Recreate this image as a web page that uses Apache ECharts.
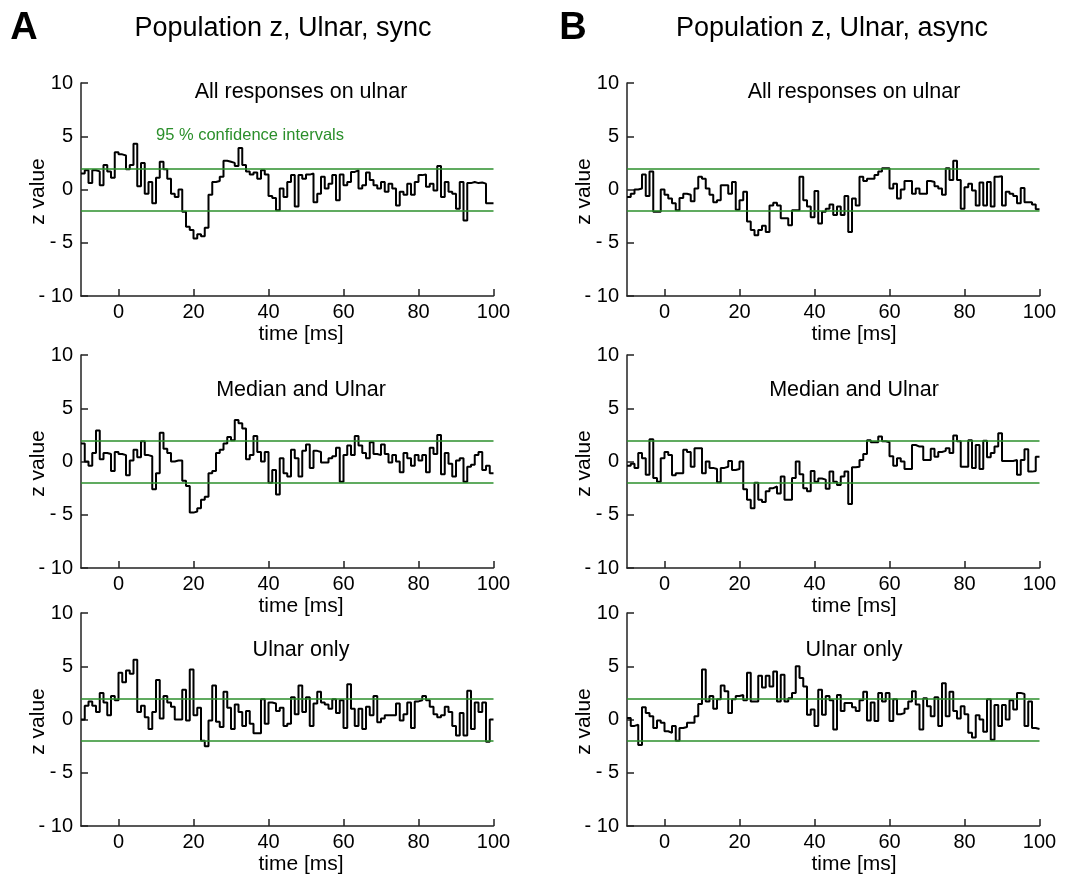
<!DOCTYPE html>
<html>
<head>
<meta charset="utf-8">
<title>Population z, Ulnar</title>
<script src="https://cdn.jsdelivr.net/npm/echarts@6/dist/echarts.min.js"></script>
<style>
  html, body { margin: 0; padding: 0; background: #fff; }
  #chart { width: 1065px; height: 876px; }
</style>
</head>
<body>
<div id="chart"></div>
<script>
// 1 ms bins, first bin starts at -10 ms, last one ends at 100 ms
const binStart = -10
const binEnd = 100

// sync, column A
const syncAll = [
  1.5, 1.8, 0.6, 1.8, 1.7, 0.4, 2.3, 1.7, 1.1, 3.5,
  3.3, 3.2, 1.9, 2.3, 4.3, 0.3, 2.5, -0.4, 0.7, -1.3,
  1.1, 2.6, 1.9, 1.0, -0.4, -0.7, 0.0, -2.1, -3.5, -3.8,
  -4.6, -4.2, -4.4, -3.6, -0.5, 0.7, 0.8, 1.2, 2.7, 2.6,
  2.5, 2.2, 3.9, 2.3, 1.7, 1.4, 1.6, 1.0, 1.8, 1.4,
  -0.6, -0.8, -1.95, 0.1, -0.7, 0.7, 1.35, -1.6, 1.35, 1.0,
  1.4, 1.5, -1.2, -0.4, 1.2, 0.1, 0.55, 1.35, -1.0, 1.4,
  0.4, 0.7, 1.65, 1.8, 0.1, 0.4, 1.6, 0.9, 0.4, 0.1,
  0.7, -0.2, 0.55, 0.1, -1.5, -0.2, -0.5, 0.55, -0.5, 0.7,
  1.35, 1.4, 0.25, 0.55, -0.1, 2.2, -0.7, 0.7, -0.2, -0.4,
  -1.8, 0.7, -2.9, 0.6, 0.7, 0.6, 0.65, 0.55, -1.3, -1.3
]
const syncMedian = [
  1.7, 0.0, -0.4, 0.8, 2.9, 0.2, 0.8, 0.7, -0.9, 0.9,
  0.7, 0.6, -1.3, 0.1, 1.1, 0.4, 1.9, 0.6, 0.5, -2.6,
  -1.1, 2.7, 1.2, 0.8, 0.0, 0.1, 0.1, -1.8, -2.3, -4.8,
  -4.7, -4.4, -3.6, -3.3, -1.1, -0.9, 0.8, 1.1, 1.7, 2.3,
  2.0, 3.9, 3.6, 3.1, 0.2, 0.6, 2.4, 0.9, 0.0, 0.9,
  -2.0, -0.8, -3.1, 0.3, -1.1, -1.4, 1.1, 0.3, -1.4, 1.0,
  1.6, -0.6, 1.0, 0.9, -0.1, -0.1, 0.3, 0.5, 1.3, -1.9,
  0.6, 1.5, 0.6, 2.4, 1.5, 0.8, 0.3, 1.8, 0.7, 0.6,
  1.6, 0.7, -0.1, 0.6, 0.0, -1.0, 0.8, 0.3, -0.4, 0.6,
  0.1, 0.6, -1.0, 1.3, 0.7, 2.5, -1.2, 0.8, -0.2, -1.4,
  0.1, 0.3, -1.9, -0.5, -0.3, 0.6, 0.9, -0.8, -0.4, -1.1
]
const syncUlnar = [
  0.0, 1.3, 1.7, 1.3, 0.7, 2.5, 1.6, 0.4, 2.2, 1.8,
  4.4, 3.5, 4.6, 4.3, 5.6, 0.7, 1.3, 0.2, -0.9, 0.7,
  3.7, 0.1, 2.2, 1.6, 1.2, 0.0, 0.0, 2.8, -0.1, 4.7,
  0.4, 1.1, -2.0, -2.5, -0.1, 3.2, -0.2, -0.7, 2.6, 1.1,
  -0.9, 1.4, 0.7, -0.6, 0.8, -0.4, -1.3, -1.3, 1.9, -0.4,
  1.6, 1.5, 0.8, 1.1, -0.6, -0.4, 2.1, 0.5, 3.2, 0.7,
  2.1, -0.6, 1.5, 2.6, 1.6, 1.4, 1.0, 1.9, 0.6, 1.8,
  -0.8, 3.3, 1.0, -0.6, 1.0, -0.9, 1.2, 0.4, 2.2, -0.25,
  0.1, 0.4, 0.4, 0.4, 1.5, -0.1, 0.5, 1.6, -0.8, 1.7,
  1.8, 2.2, 1.8, 1.2, 0.5, 0.2, 0.4, 1.2, 0.7, -0.6,
  -1.5, 0.6, -1.5, 2.7, -0.9, 1.6, 0.7, 1.6, -2.1, 0.0
]

// async, column B
const asyncAll = [
  -0.7, -0.4, 0.0, 0.1, 1.4, -0.6, 1.7, -2.1, -2.1, 0.0,
  -0.5, -0.85, -1.3, -1.95, -0.8, -0.4, -0.5, -1.1, 0.1, 1.2,
  1.0, 0.1, -0.5, -1.2, -1.0, 0.4, 0.4, -0.4, 0.7, -1.9,
  -1.0, -0.2, -3.0, -3.8, -4.3, -3.8, -3.4, -4.0, -1.5, -1.25,
  -1.5, -2.7, -2.7, -3.35, -1.95, -1.95, 1.2, -1.0, -1.6, -2.6,
  -0.15, -3.2, -2.1, -1.8, -1.4, -2.4, -1.6, -2.4, -0.6, -4.0,
  -0.85, -1.5, 1.2, 0.8, 1.0, 1.0, 1.35, 1.7, 2.0, 2.0,
  0.1, 0.55, -0.85, 0.0, 0.8, 0.8, -0.4, 0.1, -0.4, -0.4,
  0.8, 0.7, 0.3, 0.1, -0.5, 2.0, 0.9, 2.7, 0.9, -1.8,
  0.2, 0.55, -0.1, -1.5, 0.65, -1.5, 0.7, -1.6, 1.2, 1.25,
  -1.5, -0.2, -0.4, -0.6, -1.3, 0.15, -1.2, -1.2, -1.4, -1.85
]
const asyncMedian = [
  -0.4, -0.2, -0.6, 0.8, 0.3, -1.25, 2.1, -1.55, -1.9, 0.3,
  0.9, 0.6, -1.3, -1.1, -1.1, 1.1, 0.9, -0.5, 1.25, 1.25,
  -1.1, 0.0, -0.6, -0.7, -1.95, -0.6, -0.5, 0.05, -0.8, -0.7,
  0.0, -2.6, -3.6, -4.4, -2.0, -3.6, -3.8, -2.8, -2.5, -2.35,
  -3.0, -1.4, -3.6, -3.6, -1.55, 0.0, -1.2, -2.5, -2.8, -0.9,
  -1.9, -1.6, -1.7, -2.55, -0.95, -1.9, -2.2, -1.4, -0.95, -4.0,
  -0.55, -0.5, 0.15, 0.7, 2.0, 1.8, 1.8, 2.35, 1.9, 1.8,
  0.5, -0.4, 0.3, 0.0, -0.7, -0.7, 1.55, 1.4, 1.4, 0.15,
  0.15, 1.2, 0.45, 0.9, 1.0, 1.25, 0.8, 2.45, 1.9, -0.5,
  -0.5, 2.0, -0.6, 1.55, -0.7, 1.95, 0.4, 0.8, 1.4, 2.65,
  0.05, 0.05, 0.05, 0.15, -1.25, 0.15, 1.15, -0.95, -0.9, 0.45
]
const asyncUlnar = [
  0.15, -0.6, -0.5, -2.4, 1.15, 0.6, 0.3, -0.8, -0.1, -0.3,
  -1.1, -1.25, -0.6, -2.0, -0.8, -0.7, -0.3, -0.3, 0.3, 1.45,
  4.7, 1.7, 2.2, 1.0, 1.9, 3.2, 2.65, 0.6, 1.9, 2.2,
  2.3, 1.8, 4.4, 1.7, 1.7, 4.1, 3.0, 4.1, 3.1, 4.5,
  1.7, 4.2, 1.7, 2.0, 2.5, 5.0, 3.9, 3.1, 0.45, 0.95,
  -0.6, 2.8, 0.45, 2.2, 1.8, -0.95, 2.3, 0.8, 1.55, 1.55,
  1.15, 0.8, 1.8, 2.6, -0.1, 1.6, -0.15, 2.5, 1.7, 2.5,
  -0.15, 1.9, 0.5, 0.6, 1.0, 1.7, 2.65, 1.4, -0.95, 2.0,
  1.25, 0.3, 2.1, -0.6, 3.4, 0.3, 2.6, 0.8, 0.1, 1.25,
  0.5, -1.25, -1.7, 0.4, 0.0, -1.15, 1.9, -1.9, 1.35, -0.6,
  1.35, 0.0, 1.8, 0.95, 2.5, 2.4, -0.6, 1.7, -0.8, -0.9
]

const xTicks = [0, 20, 40, 60, 80, 100]
const yTicks = [-10, -5, 0, 5, 10]
const confLevels = [1.96, -1.96]

const columnLetters = ['A', 'B']
const columnTitles = ['Population z, Ulnar, sync', 'Population z, Ulnar, async']
const panelTitles = ['All responses on ulnar', 'Median and Ulnar', 'Ulnar only']
const xName = 'time [ms]'
const yName = 'z value'
const confText = '95 % confidence intervals'

const panels = [
  [syncAll, syncMedian, syncUlnar],
  [asyncAll, asyncMedian, asyncUlnar]
]

const FONT = '"Liberation Sans", Arial, Helvetica, sans-serif'
const GREEN = '#2b8f2b'
const AXIS = '#222'
const colLeft = [81, 627]
const plotW = 412.5
const rowTop = [83, 355, 613]
const plotH = 213
const titleY = [92, 390, 650]
// the text above and below each panel sits a bit right of the plot centre
const textX = [301, 854]
const yNameX = [38, 584]

function stepData(values) {
  const pts = values.map((v, i) => [binStart + i, v])
  // close the last bin at the right edge
  pts.push([binEnd, values[values.length - 1]])
  return pts
}

function yLabel(v) {
  return v < 0 ? '- ' + (-v) : String(v)
}

function text(str, x, y, font, fill, rotation) {
  return {
    type: 'text',
    x: x,
    y: y,
    rotation: rotation || 0,
    silent: true,
    style: { text: str, font: font, fill: fill || '#000', textAlign: 'center', textVerticalAlign: 'middle' }
  }
}

const grid = []
const xAxis = []
const yAxis = []
const series = []
const graphic = []

panels.forEach((col, c) => {
  col.forEach((values, r) => {
    const idx = grid.length
    grid.push({ left: colLeft[c], top: rowTop[r], width: plotW, height: plotH })
    xAxis.push({
      gridIndex: idx,
      type: 'value',
      min: binStart,
      max: binEnd,
      axisLine: { onZero: false, lineStyle: { color: AXIS, width: 1.5 } },
      axisTick: { inside: true, length: 7, customValues: xTicks, lineStyle: { color: AXIS, width: 1.5 } },
      axisLabel: { customValues: xTicks, margin: 6, fontFamily: FONT, fontSize: 20, color: '#000' },
      splitLine: { show: false }
    })
    yAxis.push({
      gridIndex: idx,
      type: 'value',
      min: yTicks[0],
      max: yTicks[yTicks.length - 1],
      interval: 5,
      axisLine: { show: true, onZero: false, lineStyle: { color: AXIS, width: 1.5 } },
      axisTick: { show: true, inside: true, length: 7, lineStyle: { color: AXIS, width: 1.5 } },
      axisLabel: { margin: 8, fontFamily: FONT, fontSize: 20, color: '#000', formatter: yLabel },
      splitLine: { show: false }
    })
    series.push({
      type: 'line',
      xAxisIndex: idx,
      yAxisIndex: idx,
      step: 'end',
      symbol: 'none',
      silent: true,
      animation: false,
      lineStyle: { color: '#000', width: 2 },
      data: stepData(values),
      markLine: {
        silent: true,
        symbol: 'none',
        animation: false,
        label: { show: false },
        lineStyle: { color: GREEN, width: 1.6, type: 'solid' },
        data: confLevels.map(v => ({ yAxis: v }))
      },
      z: 3
    })
    graphic.push(text(panelTitles[r], textX[c], titleY[r], '21.5px ' + FONT))
    graphic.push(text(xName, textX[c], rowTop[r] + plotH + 38, '21px ' + FONT))
    graphic.push(text(yName, yNameX[c], rowTop[r] + plotH / 2 + 2, '21px ' + FONT, '#000', Math.PI / 2))
  })
})

columnLetters.forEach((letter, c) => {
  graphic.push(text(letter, [24, 573][c], 29, 'bold 38px ' + FONT))
  graphic.push(text(columnTitles[c], [283, 832][c], 29, '27px ' + FONT))
})

graphic.push(text(confText, 250, 135, '16.5px ' + FONT, GREEN))

const chart = echarts.init(document.getElementById('chart'), null, { renderer: 'canvas' })
chart.setOption({
  backgroundColor: '#fff',
  animation: false,
  grid,
  xAxis,
  yAxis,
  series,
  graphic
})
</script>
</body>
</html>
